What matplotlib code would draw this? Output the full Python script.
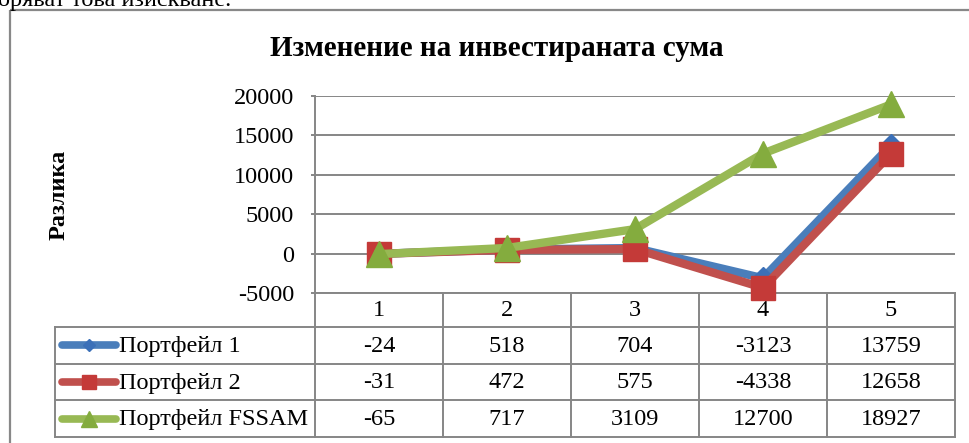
import matplotlib.pyplot as plt
from matplotlib.patches import Rectangle

categories = ["1", "2", "3", "4", "5"]
series_names = ["Портфейл 1", "Портфейл 2", "Портфейл FSSAM"]
portfolio_1 = [-24, 518, 704, -3123, 13759]
portfolio_2 = [-31, 472, 575, -4338, 12658]
portfolio_fssam = [-65, 717, 3109, 12700, 18927]
y_ticks = [-5000, 0, 5000, 10000, 15000, 20000]

W, H = 969, 443
plt.rcParams['font.family'] = ['Liberation Serif', 'DejaVu Serif']
GRID = '#868686'
FS = 17.5

fig = plt.figure(figsize=(W / 100, H / 100), dpi=100)

# pixel overlay for frame, title and the data table
bg = fig.add_axes([0, 0, 1, 1])
bg.set_xlim(0, W)
bg.set_ylim(H, 0)
bg.axis('off')

bg.add_patch(Rectangle((10, 10), W, H, fill=False, ec='#888888', lw=1.6))
bg.text(-2, 6, "оряват това изискване.", fontsize=FS, va='baseline', ha='left')
bg.text(497, 48, "Изменение на инвестираната сума", fontsize=21, fontweight='bold',
        ha='center', va='center')
bg.text(59, 195, "Разлика", fontsize=FS, fontweight='bold', rotation=90,
        ha='center', va='center')

plot_l, plot_r, plot_t, plot_b = 315, 955, 96, 293
ax = fig.add_axes([plot_l / W, 1 - plot_b / H, (plot_r - plot_l) / W, (plot_b - plot_t) / H])
ax.patch.set_alpha(0)
x = list(range(1, len(categories) + 1))
ax.set_xlim(0.5, len(categories) + 0.5)
ax.set_ylim(-5000, 20000)
ax.set_yticks(y_ticks)
ax.set_yticklabels([str(t) for t in y_ticks])
ax.set_xticks([])
ax.grid(axis='y', color=GRID, lw=1.4)
ax.set_axisbelow(True)
for s in ['top', 'right', 'bottom']:
    ax.spines[s].set_visible(False)
ax.spines['left'].set_color(GRID)
ax.spines['left'].set_linewidth(1.4)
ax.tick_params(axis='y', length=3, width=1.4, color=GRID, labelsize=FS, pad=12)

styles = [
    (portfolio_1, '#4A7EBB', 'D', 11, '#3B70B8'),
    (portfolio_2, '#C0504D', 's', 17, '#C43A38'),
    (portfolio_fssam, '#98B954', '^', 19, '#84AC3E'),
]
for vals, col, mk, ms, mcol in styles:
    ax.plot(x, vals, color=col, lw=6, marker=mk, ms=ms, mfc=mcol, mec=mcol,
            solid_joinstyle='round', clip_on=False)

# data table under the plot
col_w = (plot_r - plot_l) / len(categories)
label_l = 55
head_b = 327
row_h = (437 - head_b) / len(series_names)
rows_y = [head_b + i * row_h for i in range(len(series_names) + 1)]

bg.plot([plot_l, plot_r], [plot_b, plot_b], color=GRID, lw=1.4)
for yy in rows_y:
    bg.plot([label_l, plot_r], [yy, yy], color=GRID, lw=1.4)
bg.plot([label_l, label_l], [head_b, rows_y[-1]], color=GRID, lw=1.4)
for k in range(len(categories) + 1):
    xx = plot_l + k * col_w
    bg.plot([xx, xx], [plot_b, rows_y[-1]], color=GRID, lw=1.4)

for k, cat in enumerate(categories):
    bg.text(plot_l + (k + 0.5) * col_w, (plot_b + head_b) / 2 + 1, cat, fontsize=FS,
            ha='center', va='center')

for i, (name, (vals, col, mk, ms, mcol)) in enumerate(zip(series_names, styles)):
    cy = rows_y[i] + row_h / 2
    bg.plot([62, 116], [cy, cy], color=col, lw=5.5, solid_capstyle='round')
    bg.plot([89], [cy], marker=mk, ms=ms * 0.6, color=mcol, mec=mcol)
    bg.text(119, cy + 1, name, fontsize=FS, ha='left', va='center')
    for k, v in enumerate(vals):
        bg.text(plot_l + (k + 0.5) * col_w, cy + 1, str(v), fontsize=FS,
                ha='center', va='center')

fig.savefig("out.png", dpi=100)
